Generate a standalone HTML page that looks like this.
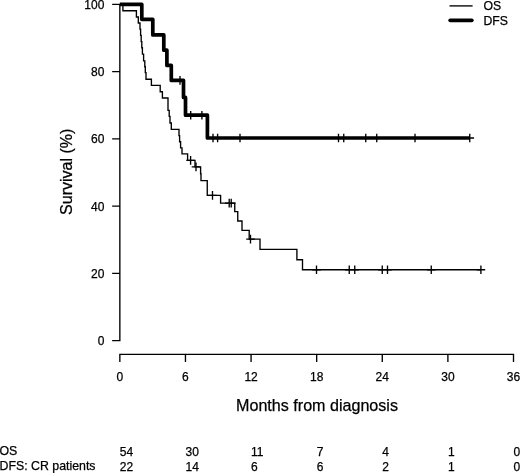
<!DOCTYPE html>
<html><head><meta charset="utf-8"><title>Survival</title>
<style>html,body{margin:0;padding:0;background:#fff}body{width:520px;height:473px;overflow:hidden}text{stroke:#000;stroke-width:0.25px}</style></head>
<body>
<svg width="520" height="473" viewBox="0 0 520 473" style="display:block" font-family="'Liberation Sans', Arial, sans-serif" fill="#000">
<rect width="520" height="473" fill="#fff"/>
<path d="M119.85,3.73V341.28M112.15,340.60H119.85M112.15,273.36H119.85M112.15,206.12H119.85M112.15,138.88H119.85M112.15,71.64H119.85M112.15,4.40H119.85M119.17,354.3H514.17M119.85,354.3V362M185.46,354.3V362M251.07,354.3V362M316.67,354.3V362M382.28,354.3V362M447.89,354.3V362M513.50,354.3V362" stroke="#000" stroke-width="1.35" fill="none" stroke-linecap="butt"/>
<text x="104.4" y="345.20" font-size="12" text-anchor="end">0</text>
<text x="104.4" y="277.96" font-size="12" text-anchor="end">20</text>
<text x="104.4" y="210.72" font-size="12" text-anchor="end">40</text>
<text x="104.4" y="143.48" font-size="12" text-anchor="end">60</text>
<text x="104.4" y="76.24" font-size="12" text-anchor="end">80</text>
<text x="104.4" y="9.00" font-size="12" text-anchor="end">100</text>
<text x="119.85" y="381" font-size="12" text-anchor="middle">0</text>
<text x="185.46" y="381" font-size="12" text-anchor="middle">6</text>
<text x="251.07" y="381" font-size="12" text-anchor="middle">12</text>
<text x="316.67" y="381" font-size="12" text-anchor="middle">18</text>
<text x="382.28" y="381" font-size="12" text-anchor="middle">24</text>
<text x="447.89" y="381" font-size="12" text-anchor="middle">30</text>
<text x="513.50" y="381" font-size="12" text-anchor="middle">36</text>
<text transform="translate(72,171.8) rotate(-90)" font-size="16" text-anchor="middle">Survival (%)</text>
<text x="317" y="411.3" font-size="16.1" text-anchor="middle">Months from diagnosis</text>
<path transform="translate(0,0.35)" d="M119.85,4.4 H122.9 V10.4 H136.4 V16.6 H138.3 V22.6 H140 V28.8 H140.6 V35 H141.2 V41.2 H141.8 V47.4 H142.4 V53.8 H143.6 V60.6 H144.8 V66.4 H145.3 V72.3 H146 V78.9 H151.4 V85 H160.2 V91.4 H162.4 V97.6 H168 V110 H169.2 V116 H170 V122.7 H171.3 V129 H179 V135.2 H179.6 V141.4 H180.6 V147.5 H182 V153.5 H187.6 V160 H195 V166.5 H200.6 V173.4 H201 V180.25 H207.25 V195 H220.6 V202.75 H234.75 V211.25 H237.75 V220.6 H242 V230 H249.2 V238.8 H260 V249 H296.9 V259.4 H302.5 V269.4 H481" stroke="#000" stroke-width="1.35" fill="none" stroke-linejoin="miter"/>
<path transform="translate(0,0.35)" d="M186.30,160H194.90M190.6,155.70V164.30M191.70,166.5H200.30M196,162.20V170.80M208.20,195H216.80M212.5,190.70V199.30M224.90,202.75H233.50M229.2,198.45V207.05M226.90,202.75H235.50M231.2,198.45V207.05M246.20,238.8H254.80M250.5,234.50V243.10M312.20,269.4H320.80M316.5,265.10V273.70M344.95,269.4H353.55M349.25,265.10V273.70M350.45,269.4H359.05M354.75,265.10V273.70M377.95,269.4H386.55M382.25,265.10V273.70M383.20,269.4H391.80M387.5,265.10V273.70M426.95,269.4H435.55M431.25,265.10V273.70M476.60,269.4H485.20M480.9,265.10V273.70" stroke="#000" stroke-width="1.35" fill="none"/>
<path d="M119.85,4.4 H141.8 V19.3 H152.8 V34.9 H163.8 V50.2 H166.9 V65.4 H171.3 V80.4 H183.5 V97.4 H185.5 V115.2 H207.4 V138 H470" stroke="#000" stroke-width="3.7" fill="none" stroke-linejoin="round" stroke-linecap="butt"/>
<path d="M175.70,80.4H184.30M180,76.10V84.70M186.40,115.2H195.00M190.7,110.90V119.50M197.60,115.2H206.20M201.9,110.90V119.50M208.70,138H217.30M213,133.70V142.30M213.30,138H221.90M217.6,133.70V142.30M235.70,138H244.30M240,133.70V142.30M334.20,138H342.80M338.5,133.70V142.30M339.45,138H348.05M343.75,133.70V142.30M361.45,138H370.05M365.75,133.70V142.30M372.45,138H381.05M376.75,133.70V142.30M410.70,138H419.30M415,133.70V142.30M465.45,138H474.05M469.75,133.70V142.30" stroke="#000" stroke-width="1.35" fill="none"/>
<path d="M449.5,5.9H472.6" stroke="#000" stroke-width="1.35"/>
<path d="M450.2,20.3H471.8" stroke="#000" stroke-width="3.7" stroke-linecap="round"/>
<text x="483.5" y="10.4" font-size="12.25">OS</text>
<text x="483.5" y="24.8" font-size="12.25">DFS</text>
<text x="-0.5" y="455.2" font-size="12.35">OS</text>
<text x="-0.5" y="470.2" font-size="12.35">DFS: CR patients</text>
<text x="119.85" y="455.5" font-size="12">54</text>
<text x="119.85" y="470.5" font-size="12">22</text>
<text x="185.46" y="455.5" font-size="12">30</text>
<text x="185.46" y="470.5" font-size="12">14</text>
<text x="251.07" y="455.5" font-size="12">11</text>
<text x="251.07" y="470.5" font-size="12">6</text>
<text x="316.67" y="455.5" font-size="12">7</text>
<text x="316.67" y="470.5" font-size="12">6</text>
<text x="382.28" y="455.5" font-size="12">4</text>
<text x="382.28" y="470.5" font-size="12">2</text>
<text x="447.89" y="455.5" font-size="12">1</text>
<text x="447.89" y="470.5" font-size="12">1</text>
<text x="513.50" y="455.5" font-size="12">0</text>
<text x="513.50" y="470.5" font-size="12">0</text>
</svg>
</body></html>
